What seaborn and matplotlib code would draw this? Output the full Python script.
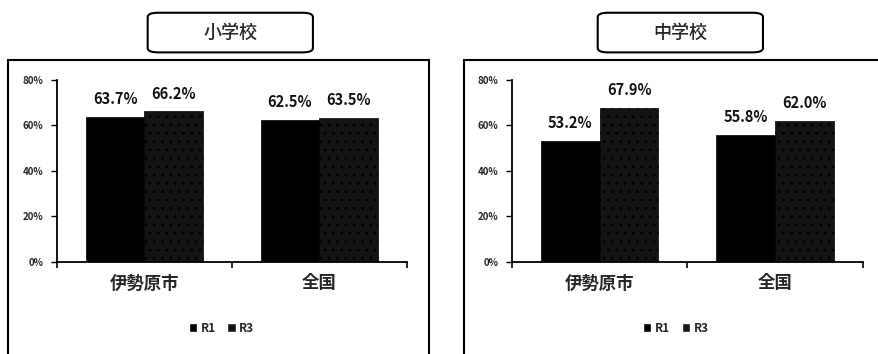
import matplotlib
matplotlib.use("Agg")
import matplotlib.pyplot as plt
from matplotlib.patches import FancyBboxPatch, Rectangle
import seaborn as sns
import pandas as pd

# Data: share (%) by school level, area and survey year
categories = ["伊勢原市", "全国"]
series = ["R1", "R3"]
elementary_r1 = [63.7, 62.5]
elementary_r3 = [66.2, 63.5]
junior_r1 = [53.2, 55.8]
junior_r3 = [67.9, 62.0]
panel_titles = ["小学校", "中学校"]
ytick_values = [0, 20, 40, 60, 80]
ytick_labels = ["0%", "20%", "40%", "60%", "80%"]

sns.set_theme(style="white")
plt.rcParams["font.family"] = ["Noto Sans CJK JP", "DejaVu Sans"]
plt.rcParams["hatch.color"] = "#5c5c5c"
plt.rcParams["hatch.linewidth"] = 0.8


def make_frame(r1, r3):
    rows = []
    for name, vals in zip(series, [r1, r3]):
        for cat, v in zip(categories, vals):
            rows.append({"area": cat, "year": name, "value": v})
    return pd.DataFrame(rows)


fig = plt.figure(figsize=(8.79, 3.54), dpi=100)
fig.patch.set_facecolor("white")

panels = [
    (make_frame(elementary_r1, elementary_r3), [0.0648, 0.26, 0.398, 0.514],
     (0.0091, 0.488), (0.168, 0.356), 0.252),
    (make_frame(junior_r1, junior_r3), [0.5825, 0.26, 0.399, 0.514],
     (0.528, 1.01), (0.680, 0.868), 0.769),
]

palette = {"R1": "#000000", "R3": "#141414"}

for (df, rect, frame_x, title_x, legend_x), title in zip(panels, panel_titles):
    # outer frame around the panel
    fig.patches.append(Rectangle((frame_x[0], -0.05), frame_x[1] - frame_x[0], 0.8805,
                                 transform=fig.transFigure, fill=False,
                                 edgecolor="black", linewidth=1.5, zorder=0))
    # rounded title box
    fig.patches.append(FancyBboxPatch((title_x[0], 0.852), title_x[1] - title_x[0], 0.112,
                                      boxstyle="round,pad=0,rounding_size=0.012",
                                      transform=fig.transFigure, facecolor="white",
                                      edgecolor="black", linewidth=1.5))
    fig.text((title_x[0] + title_x[1]) / 2, 0.906, title, ha="center", va="center",
             fontsize=13, fontweight="medium")

    ax = fig.add_axes(rect)
    sns.barplot(data=df, x="area", y="value", hue="year", palette=palette,
                order=categories, hue_order=series, width=0.67, saturation=1,
                ax=ax, legend=True)
    for i, cont in enumerate(ax.containers):
        for bar in cont:
            bar.set_edgecolor("#000000")
            bar.set_linewidth(0.5)
            if i == 1:
                bar.set_hatch("..")
        ax.bar_label(cont, labels=[f"{v:.1f}%" for v in cont.datavalues],
                     padding=7, fontsize=10.5, fontweight="bold", color="#111111")

    ax.set_ylim(0, 80)
    ax.set_xlim(-0.5, 1.5)
    ax.set_yticks(ytick_values)
    ax.set_yticklabels(ytick_labels, fontsize=7, fontweight="bold")
    ax.set_xticks([0, 1])
    ax.set_xticklabels(categories, fontsize=12.5, fontweight="bold")
    ax.set_xticks([-0.5, 0.5, 1.5], minor=True)
    ax.tick_params(axis="x", which="major", length=0, pad=9)
    ax.tick_params(axis="x", which="minor", length=4, width=1.2, color="black",
                   direction="out", bottom=True)
    ax.tick_params(axis="y", length=4, width=1.0, color="black", direction="out",
                   left=True, pad=6)
    ax.set_xlabel("")
    ax.set_ylabel("")
    for side in ["top", "right"]:
        ax.spines[side].set_visible(False)
    for side in ["left", "bottom"]:
        ax.spines[side].set_color("black")
        ax.spines[side].set_linewidth(1.3)
    ax.set_facecolor("white")

    handles, labels = ax.get_legend_handles_labels()
    ax.legend_.remove()
    fig.legend(handles, labels, loc="center", bbox_to_anchor=(legend_x, 0.073),
               ncol=2, frameon=False, handlelength=0.7,
               handleheight=0.7, handletextpad=0.3, columnspacing=1.0,
               prop={"weight": "bold", "size": 8.5})

fig.savefig("out.png", dpi=100, facecolor="white")
